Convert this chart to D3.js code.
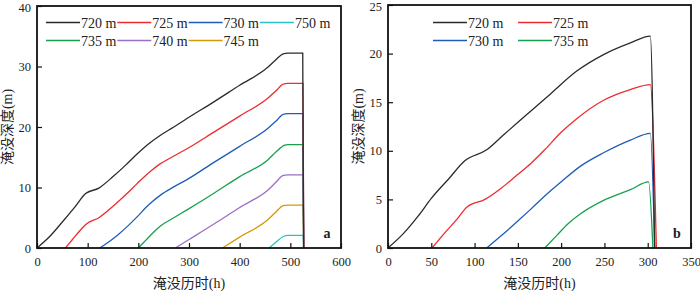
<!DOCTYPE html>
<html>
<head>
<meta charset="utf-8">
<script src="https://cdn.jsdelivr.net/npm/d3@7"></script>
<style>
  body { margin: 0; background: #fff; }
  svg { display: block; }
  text { font-family: "Liberation Serif", "Times New Roman", "Noto Sans CJK SC", serif; fill: #222; }
</style>
</head>
<body>
<svg id="chart" width="700" height="291"></svg>
<script>
// ---- panel a (7 water levels) ----
const a720t = [0, 25, 50, 75, 96, 122, 150, 175, 197, 220, 243, 270, 296, 350, 400, 453, 470, 486, 495, 524.5, 526];
const a720d = [0, 1.9, 4.3, 6.8, 9.0, 9.9, 11.8, 13.7, 15.5, 17.2, 18.6, 20.0, 21.4, 24.2, 26.9, 29.7, 31.0, 32.1, 32.2, 32.2, 0];
const a725t = [56, 70, 85, 98, 122, 150, 175, 197, 220, 243, 270, 296, 350, 400, 456, 472, 486, 495, 525, 526.5];
const a725d = [0, 1.4, 2.9, 4.0, 5.0, 6.9, 8.8, 10.6, 12.4, 13.9, 15.2, 16.4, 19.2, 21.8, 24.8, 26.0, 27.1, 27.2, 27.2, 0];
const a730t = [124, 140, 160, 180, 197, 220, 243, 270, 296, 350, 400, 456, 472, 486, 495, 525, 526.5];
const a730d = [0, 0.9, 2.2, 3.7, 5.1, 7.1, 8.7, 10.1, 11.3, 14.2, 16.8, 19.8, 21.0, 22.1, 22.2, 22.2, 0];
const a735t = [200, 215, 230, 243, 270, 296, 350, 400, 456, 472, 489, 495, 525, 526.5];
const a735d = [0, 1.3, 2.6, 3.6, 5.0, 6.3, 9.1, 11.8, 14.6, 15.9, 17.0, 17.1, 17.1, 0];
const a740t = [273, 300, 350, 400, 456, 472, 486, 495, 525, 526.5];
const a740d = [0, 1.4, 4.0, 6.7, 9.6, 10.9, 12.0, 12.1, 12.1, 0];
const a745t = [366, 400, 456, 472, 486, 495, 525, 526.5];
const a745d = [0, 1.8, 4.7, 6.0, 7.0, 7.1, 7.1, 0];
const a750t = [458, 472, 486, 495, 525, 526.5];
const a750d = [0, 1.0, 1.9, 2.1, 2.1, 0];

// ---- panel b (4 water levels) ----
const b720t = [0, 18, 35, 50, 70, 89, 114, 133, 160, 187, 218, 249, 280, 303, 308];
const b720d = [0, 1.5, 3.3, 5.1, 7.1, 9.0, 10.1, 11.6, 13.7, 15.8, 18.2, 19.9, 21.1, 21.8, 0];
const b725t = [51, 65, 80, 91, 112, 130, 149, 165, 181, 200, 218, 249, 280, 303, 310];
const b725d = [0, 1.5, 3.0, 4.2, 5.0, 6.1, 7.5, 8.7, 10.1, 11.9, 13.3, 15.2, 16.3, 16.8, 0];
const b730t = [114, 130, 149, 165, 183, 200, 222, 249, 280, 303, 308];
const b730d = [0, 1.2, 2.7, 4.0, 5.5, 6.8, 8.4, 9.8, 11.1, 11.8, 0];
const b735t = [181, 195, 208, 222, 249, 280, 301, 306];
const b735d = [0, 1.3, 2.5, 3.5, 4.9, 6.0, 6.8, 0];

const xTicksA = [0, 100, 200, 300, 400, 500, 600];
const yTicksA = [0, 10, 20, 30, 40];
const xTicksB = [0, 50, 100, 150, 200, 250, 300, 350];
const yTicksB = [0, 5, 10, 15, 20, 25];

const colors = {
  "720 m": "#2b2b2b", "725 m": "#ee2b2f", "730 m": "#1f5cb8", "750 m": "#2cc1c6",
  "735 m": "#17a04e", "740 m": "#9a70c6", "745 m": "#d49a06"
};

const seriesA = [
  { name: "720 m", t: a720t, d: a720d },
  { name: "725 m", t: a725t, d: a725d },
  { name: "730 m", t: a730t, d: a730d },
  { name: "735 m", t: a735t, d: a735d },
  { name: "740 m", t: a740t, d: a740d },
  { name: "745 m", t: a745t, d: a745d },
  { name: "750 m", t: a750t, d: a750d }
];
const seriesB = [
  { name: "720 m", t: b720t, d: b720d },
  { name: "725 m", t: b725t, d: b725d },
  { name: "730 m", t: b730t, d: b730d },
  { name: "735 m", t: b735t, d: b735d }
];

// legend layout: rows of names
const legendA = [["720 m", "725 m", "730 m", "750 m"], ["735 m", "740 m", "745 m"]];
const legendB = [["720 m", "725 m"], ["730 m", "735 m"]];

const svg = d3.select("#chart");

function drawPanel(opt) {
  const x = d3.scaleLinear().domain(opt.xDomain).range([opt.left, opt.right]);
  const y = d3.scaleLinear().domain(opt.yDomain).range([opt.bottom, opt.top]);
  const g = svg.append("g");

  const line = d3.line()
    .x(p => x(p[0]))
    .y(p => y(p[1]))
    .curve(d3.curveMonotoneX);

  opt.series.slice().reverse().forEach(s => {
    g.append("path")
      .datum(s.t.map((t, i) => [t, s.d[i]]))
      .attr("fill", "none")
      .attr("stroke", colors[s.name])
      .attr("stroke-width", 1.3)
      .attr("d", line);
  });

  // axes with inward ticks
  const xAxis = g.append("g")
    .attr("transform", "translate(0," + opt.bottom + ")")
    .call(d3.axisBottom(x).tickValues(opt.xTicks).tickSizeInner(-5).tickSizeOuter(0).tickPadding(9));
  const yAxis = g.append("g")
    .attr("transform", "translate(" + opt.left + ",0)")
    .call(d3.axisLeft(y).tickValues(opt.yTicks).tickSizeInner(-5).tickSizeOuter(0).tickPadding(6));
  [xAxis, yAxis].forEach(ax => {
    ax.select(".domain").remove();
    ax.selectAll(".tick line").attr("stroke", "#111").attr("stroke-width", 1.2);
    ax.selectAll(".tick text").attr("font-size", 12.5).attr("fill", "#333")
      .attr("font-family", "'Liberation Serif', serif");
  });
  // keep the top label inside the picture
  yAxis.selectAll(".tick text").filter(v => v === opt.yDomain[1]).attr("dy", "0.4em");

  // frame
  g.append("rect")
    .attr("x", opt.left).attr("y", opt.top)
    .attr("width", opt.right - opt.left).attr("height", opt.bottom - opt.top)
    .attr("fill", "none").attr("stroke", "#111").attr("stroke-width", 1.8);

  // legend
  opt.legend.forEach((row, r) => {
    row.forEach((name, c) => {
      const lx = opt.legX + c * opt.legStep;
      const ly = opt.legY + r * 18;
      g.append("line")
        .attr("x1", lx).attr("x2", lx + 34).attr("y1", ly).attr("y2", ly)
        .attr("stroke", colors[name]).attr("stroke-width", 1.5);
      g.append("text")
        .attr("x", lx + 35).attr("y", ly + 5)
        .attr("font-size", 14).attr("fill", "#333")
        .text(name);
    });
  });

  // panel letter
  g.append("text")
    .attr("x", opt.right - 14).attr("y", 238)
    .attr("text-anchor", "middle")
    .attr("font-size", 14).attr("font-weight", "bold")
    .text(opt.letter);

  // axis titles
  g.append("text")
    .attr("x", (opt.left + opt.right) / 2).attr("y", 288)
    .attr("text-anchor", "middle").attr("font-size", 14)
    .text("淹没历时(h)");
  g.append("text")
    .attr("transform", "translate(" + (opt.left - 25) + "," + ((opt.top + opt.bottom) / 2) + ") rotate(-90)")
    .attr("text-anchor", "middle").attr("font-size", 14)
    .text("淹没深度(m)");
}

drawPanel({
  xDomain: [0, 600], yDomain: [0, 40],
  left: 37, right: 341, top: 6, bottom: 248,
  xTicks: xTicksA, yTicks: yTicksA,
  series: seriesA, legend: legendA,
  legX: 46, legY: 22.5, legStep: 71.3, letter: "a"
});

drawPanel({
  xDomain: [0, 350], yDomain: [0, 25],
  left: 388, right: 691, top: 5, bottom: 248,
  xTicks: xTicksB, yTicks: yTicksB,
  series: seriesB, legend: legendB,
  legX: 433, legY: 22.5, legStep: 85, letter: "b"
});
</script>
</body>
</html>
